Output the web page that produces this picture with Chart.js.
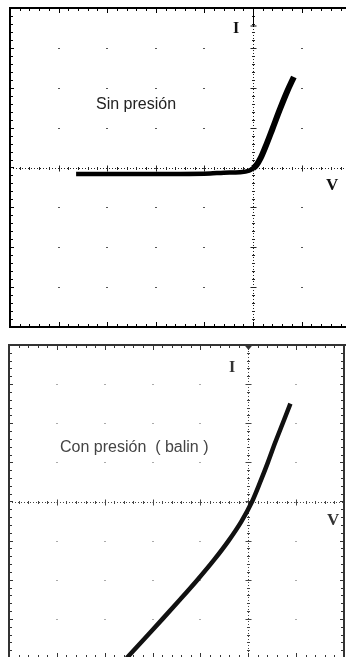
<!DOCTYPE html>
<html>
<head>
<meta charset="utf-8">
<script src="https://cdn.jsdelivr.net/npm/chart.js@4.4.1/dist/chart.umd.min.js"></script>
<style>
  body { margin: 0; width: 346px; height: 657px; overflow: hidden; background: #fff; position: relative; }
  .panel { position: absolute; left: 0; width: 346px; }
  #topPanel { top: 0; height: 330px; }
  #botPanel { top: 338px; height: 322px; filter: blur(0.35px); }
  .lbl { position: absolute; white-space: pre; line-height: 1; }
  .axis { font-family: "Liberation Serif", serif; font-weight: bold; color: #111; }
  .note { font-family: "Liberation Sans", Arial, sans-serif; font-size: 16px; }
  .soft { filter: blur(0.35px); }
</style>
</head>
<body>
<div class="panel" id="topPanel"><canvas id="topChart"></canvas></div>
<div class="panel" id="botPanel"><canvas id="botChart"></canvas></div>

<div class="lbl axis" style="left:233px; top:20px; font-size:16px;">I</div>
<div class="lbl axis" style="left:326px; top:176px; font-size:17px;">V</div>
<div class="lbl note" style="left:96px; top:96px; color:#222;">Sin presión</div>

<div class="lbl axis soft" style="left:229px; top:359px; font-size:16px; color:#333;">I</div>
<div class="lbl axis soft" style="left:327px; top:511px; font-size:17px; color:#333;">V</div>
<div class="lbl note soft" style="left:60px; top:439px; color:#444;">Con presión  ( balin )</div>

<script>
// I-V trace, in screen divisions (V horizontal, I vertical)
const sinV = [-3.64, -2.5, -1.5, -0.88, -0.6, -0.27, -0.08, 0.0, 0.07, 0.15, 0.26, 0.40, 0.55, 0.70, 0.84];
const sinI = [-0.16, -0.16, -0.16, -0.15, -0.13, -0.12, -0.08, -0.02, 0.06, 0.22, 0.53, 0.97, 1.45, 1.90, 2.27];

const conV = [-2.54, -2.165, -1.79, -1.42, -1.06, -0.72, -0.41, -0.14, 0.08, 0.25, 0.41, 0.56, 0.72, 0.88];
const conI = [-4.0, -3.5, -3.0, -2.5, -2.0, -1.5, -1.0, -0.5, 0.0, 0.5, 1.0, 1.5, 2.0, 2.5];

// oscilloscope graticule: frame, border ticks, centre axes, grid dots
const scopeGrid = {
  id: 'scopeGrid',
  beforeDatasetsDraw(chart, args, o) {
    const { ctx, chartArea: a, scales: { x, y } } = chart;
    const x0 = Math.round(x.getPixelForValue(0)) + 0.5;
    const y0 = Math.round(y.getPixelForValue(0)) + 0.5;
    ctx.save();

    // grid dots at each division
    ctx.fillStyle = o.dot;
    for (let i = Math.ceil(x.min); i <= x.max; i++) {
      for (let j = Math.ceil(y.min); j <= y.max; j++) {
        const px = Math.round(x.getPixelForValue(i));
        const py = Math.round(y.getPixelForValue(j));
        ctx.fillRect(px - 1, py, 2, 1);
      }
    }

    // centre axes, dotted with small cross ticks
    ctx.strokeStyle = o.axis;
    ctx.lineWidth = 1;
    ctx.setLineDash([1, 2]);
    ctx.beginPath();
    ctx.moveTo(a.left, y0); ctx.lineTo(a.right, y0);
    ctx.moveTo(x0, a.top); ctx.lineTo(x0, a.bottom);
    ctx.stroke();
    ctx.setLineDash([]);
    ctx.beginPath();
    for (let v = Math.ceil(x.min * 5) / 5; v <= x.max; v += 0.2) {
      const px = Math.round(x.getPixelForValue(v)) + 0.5;
      const h = Math.abs(v - Math.round(v)) < 0.01 ? 3 : 1.5;
      ctx.moveTo(px, y0 - h); ctx.lineTo(px, y0 + h);
    }
    for (let v = Math.ceil(y.min * 5) / 5; v <= y.max; v += 0.2) {
      const py = Math.round(y.getPixelForValue(v)) + 0.5;
      const h = Math.abs(v - Math.round(v)) < 0.01 ? 3 : 1.5;
      ctx.moveTo(x0 - h, py); ctx.lineTo(x0 + h, py);
    }
    ctx.stroke();

    // minor ticks along the frame
    ctx.strokeStyle = o.frame;
    ctx.beginPath();
    for (let v = Math.ceil(x.min * 5) / 5; v <= x.max; v += 0.2) {
      const px = Math.round(x.getPixelForValue(v)) + 0.5;
      const h = Math.abs(v - Math.round(v)) < 0.01 ? 5 : 3;
      ctx.moveTo(px, a.top); ctx.lineTo(px, a.top + h);
      ctx.moveTo(px, a.bottom); ctx.lineTo(px, a.bottom - h);
    }
    for (let v = Math.ceil(y.min * 5) / 5; v <= y.max; v += 0.2) {
      const py = Math.round(y.getPixelForValue(v)) + 0.5;
      const h = Math.abs(v - Math.round(v)) < 0.01 ? 4 : 3;
      ctx.moveTo(a.left, py); ctx.lineTo(a.left + h, py);
      if (o.rightFrame) { ctx.moveTo(a.right, py); ctx.lineTo(a.right - h, py); }
    }
    ctx.stroke();

    // frame
    ctx.lineWidth = 2;
    ctx.beginPath();
    ctx.moveTo(a.right + 2, a.top); ctx.lineTo(a.left, a.top);
    ctx.lineTo(a.left, a.bottom); ctx.lineTo(a.right + 2, a.bottom);
    if (o.rightFrame) { ctx.moveTo(a.right, a.top); ctx.lineTo(a.right, a.bottom); }
    ctx.stroke();

    // marker at the top of the I axis
    ctx.fillStyle = o.frame;
    ctx.strokeStyle = o.frame;
    if (o.cap === 'line') {
      ctx.lineWidth = 1;
      ctx.beginPath();
      ctx.moveTo(x0, a.top); ctx.lineTo(x0, a.top + 19);
      ctx.moveTo(x0 - 3, a.top + 18); ctx.lineTo(x0 + 3, a.top + 18);
      ctx.stroke();
    } else {
      ctx.beginPath();
      ctx.moveTo(x0 - 5, a.top - 1); ctx.lineTo(x0 + 5, a.top - 1);
      ctx.lineTo(x0, a.top + 5); ctx.closePath();
      ctx.fill();
    }
    ctx.restore();
  }
};

function scope(id, vs, is, xmax, pad, grid, width, color) {
  return new Chart(document.getElementById(id), {
    type: 'line',
    data: {
      datasets: [{
        data: vs.map((v, i) => ({ x: v, y: is[i] })),
        borderColor: color,
        borderWidth: width[0],
        // the forward-conducting branch is traced heavier on screen
        segment: { borderWidth: c => c.p0.parsed.x >= 0 ? width[1] : width[0] },
        pointRadius: 0,
        cubicInterpolationMode: 'monotone',
        fill: false
      }]
    },
    options: {
      responsive: true,
      maintainAspectRatio: false,
      animation: false,
      layout: { padding: pad },
      scales: {
        x: { type: 'linear', min: -5, max: xmax, display: false },
        y: { type: 'linear', min: -4, max: 4, display: false }
      },
      plugins: { legend: { display: false }, tooltip: { enabled: false }, scopeGrid: grid }
    },
    plugins: [scopeGrid]
  });
}

scope('topChart', sinV, sinI, 1.913, { left: 10, top: 8, right: 0, bottom: 3 },
  { frame: '#000', axis: '#222', dot: '#555', cap: 'line', rightFrame: false }, [4.5, 6], '#000');

scope('botChart', conV, conI, 2, { left: 9, top: 7, right: 2, bottom: 2 },
  { frame: '#333', axis: '#444', dot: '#aaa', cap: 'dot', rightFrame: true }, [4.5, 4.5], '#111');
</script>
</body>
</html>
